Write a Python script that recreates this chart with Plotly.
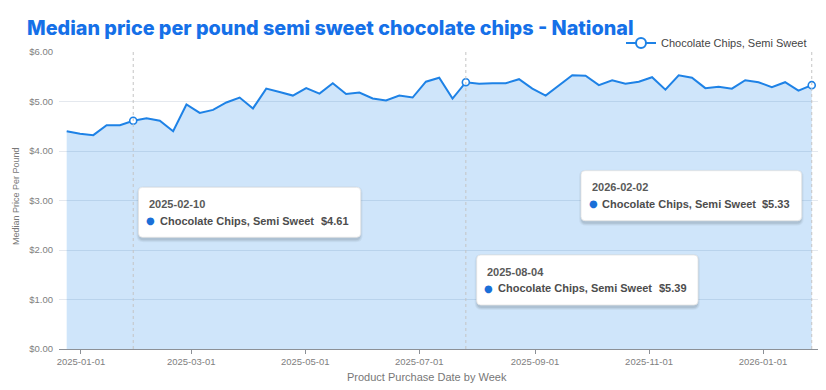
import plotly.graph_objects as go
import pandas as pd

# ---------------- data ----------------
series_name = "Chocolate Chips, Semi Sweet"
start_week = "2025-01-06"
n_weeks = 57
week_dates = pd.date_range(start_week, periods=n_weeks, freq="7D")
prices = [
    4.40, 4.35, 4.32, 4.52, 4.52, 4.61, 4.66, 4.61, 4.40, 4.94,
    4.77, 4.83, 4.98, 5.08, 4.86, 5.26, 5.19, 5.12, 5.27, 5.16,
    5.37, 5.15, 5.18, 5.06, 5.02, 5.12, 5.08, 5.40, 5.48, 5.06,
    5.39, 5.36, 5.37, 5.37, 5.45, 5.26, 5.12, 5.33, 5.53, 5.52,
    5.33, 5.43, 5.36, 5.40, 5.49, 5.24, 5.53, 5.48, 5.27, 5.30,
    5.26, 5.43, 5.39, 5.29, 5.39, 5.22, 5.33,
]
highlight_dates = ["2025-02-10", "2025-08-04", "2026-02-02"]
tick_labels = ["2025-01-01", "2025-03-01", "2025-05-01", "2025-07-01",
               "2025-09-01", "2025-11-01", "2026-01-01"]
y_ticks = [0, 1, 2, 3, 4, 5, 6]

title_text = "Median price per pound semi sweet chocolate chips - National"
x_title = "Product Purchase Date by Week"
y_title = "Median Price Per Pound"

# ---------------- styling ----------------
OFF = 8                      # page body margin
W, H = 826 - OFF, 390 - OFF  # figure size
# plot area in reference (window) pixels
L0, R0, T0, B0 = 59, 818, 52, 349
L, R, T, B = L0 - OFF, R0 - OFF, T0 - OFF, B0 - OFF
LINE = "#1E82E6"
FILL = "rgba(30,130,230,0.21)"
GRID = "#e4e8ee"
TICKC = "#808080"
SANS = "Liberation Sans, Arial, sans-serif"


def px(xw):
    return (xw - OFF - L) / (R - L)


def py(yw):
    return (B - (yw - OFF)) / (B - T)


date_to_price = {d.strftime("%Y-%m-%d"): p for d, p in zip(week_dates, prices)}
hl_prices = [date_to_price[d] for d in highlight_dates]

fig = go.Figure()

fig.add_trace(go.Scatter(
    x=week_dates, y=prices, mode="lines",
    line=dict(color=LINE, width=2), fill="tozeroy", fillcolor=FILL,
    showlegend=False, hoverinfo="skip",
))
fig.add_trace(go.Scatter(
    x=pd.to_datetime(highlight_dates), y=hl_prices, mode="markers",
    marker=dict(symbol="circle", size=7, color="white",
                line=dict(color=LINE, width=1.6)),
    showlegend=False, hoverinfo="skip",
))
# legend entry
fig.add_trace(go.Scatter(
    x=[None], y=[None], mode="lines+markers", name=series_name,
    line=dict(color=LINE, width=2),
    marker=dict(symbol="circle", size=10, color="white",
                line=dict(color=LINE, width=2)),
))
# empty trace so the tick-label date axis is drawn
fig.add_trace(go.Scatter(
    x=pd.to_datetime(tick_labels), y=[None] * len(tick_labels), xaxis="x2",
    mode="lines", showlegend=False, hoverinfo="skip",
))

shapes = []
annotations = []

# dashed guide lines
for d in highlight_dates:
    shapes.append(dict(type="line", xref="x", yref="paper", x0=d, x1=d, y0=0, y1=1,
                       line=dict(color="#c4c4c4", width=1, dash="3px,3px"), layer="above"))


def rounded_rect(x0w, y0w, x1w, y1w, r=4):
    rx = r / (R - L)
    ry = r / (B - T)
    X0, X1 = px(x0w), px(x1w)
    Yt, Yb = py(y0w), py(y1w)
    return (f"M {X0+rx},{Yt} L {X1-rx},{Yt} Q {X1},{Yt} {X1},{Yt-ry} "
            f"L {X1},{Yb+ry} Q {X1},{Yb} {X1-rx},{Yb} L {X0+rx},{Yb} "
            f"Q {X0},{Yb} {X0},{Yb+ry} L {X0},{Yt-ry} Q {X0},{Yt} {X0+rx},{Yt} Z")


boxes = [  # left, top, right, bottom (window pixels)
    (138.5, 187.3, 360.7, 237.3),
    (476.7, 255.0, 698.0, 305.0),
    (581.0, 170.7, 801.7, 220.7),
]
for (l, t, r, b), d, p in zip(boxes, highlight_dates, hl_prices):
    for off, a in [(3, 0.04), (2, 0.05), (1, 0.07)]:
        shapes.append(dict(type="path", xref="paper", yref="paper",
                           path=rounded_rect(l - off + 1, t - off + 2, r + off - 1, b + off + 2, 4 + off),
                           fillcolor=f"rgba(0,0,0,{a})", line=dict(width=0), layer="above"))
    shapes.append(dict(type="path", xref="paper", yref="paper",
                       path=rounded_rect(l, t, r, b, 4),
                       fillcolor="white", line=dict(color="#e3e3e3", width=0.8), layer="above"))
    annotations.append(dict(xref="paper", yref="paper", x=px(l + 8.5), y=py(t + 16.5),
                            xanchor="left", yanchor="middle", showarrow=False,
                            text=d, font=dict(family=SANS, size=11, color="#595959", weight="bold")))
    annotations.append(dict(xref="paper", yref="paper", x=px(l + 12), y=py(t + 33.2),
                            xanchor="center", yanchor="middle", showarrow=False,
                            text="●", font=dict(family="DejaVu Sans", size=10, color="#1a6fd8")))
    annotations.append(dict(xref="paper", yref="paper", x=px(l + 19.3), y=py(t + 33.2),
                            xanchor="left", yanchor="middle", showarrow=False,
                            text=series_name,
                            font=dict(family=SANS, size=11, color="#4d4d4d", weight="bold")))
    annotations.append(dict(xref="paper", yref="paper", x=px(r - 9.5), y=py(t + 33.2),
                            xanchor="right", yanchor="middle", showarrow=False,
                            text=f"${p:.2f}",
                            font=dict(family=SANS, size=11, color="#4d4d4d", weight="bold")))

# axis titles
annotations.append(dict(xref="paper", yref="paper", x=px(427), y=py(377),
                        xanchor="center", yanchor="middle", showarrow=False, text=x_title,
                        font=dict(family=SANS, size=11, color="#777777")))
annotations.append(dict(xref="paper", yref="paper", x=px(16), y=py(196),
                        xanchor="center", yanchor="middle", showarrow=False, text=y_title,
                        textangle=-90,
                        font=dict(family=SANS, size=9, color="#777777")))

fig.update_layout(
    width=W, height=H,
    margin=dict(l=L, r=W - R, t=T, b=H - B, pad=0, autoexpand=False),
    paper_bgcolor="white", plot_bgcolor="white",
    title=dict(text=title_text, x=(27 - OFF) / W, xref="container", xanchor="left",
               y=1 - (28 - OFF) / H, yref="container", yanchor="middle",
               font=dict(family="Inter, Open Sans, sans-serif", size=19.8, color="#1570E8", weight=800)),
    legend=dict(x=px(812), xanchor="right", y=py(43), yanchor="middle",
                font=dict(family=SANS, size=11, color="#444444"),
                bgcolor="rgba(0,0,0,0)", itemwidth=30),
    shapes=shapes, annotations=annotations,
    xaxis=dict(type="date",
               range=["2025-01-01 22:48", "2026-02-05 07:00"],
               showgrid=False, showticklabels=False, ticks="", showline=False,
               zeroline=False, fixedrange=True),
    xaxis2=dict(type="date", overlaying="x", anchor="y", side="bottom",
                range=["2024-12-20 05:30", "2026-01-30 10:00"],
                tickmode="array", tickvals=tick_labels, ticktext=tick_labels,
                showgrid=False, showline=True, linecolor="#8c9096", linewidth=1,
                ticks="outside", ticklen=4, tickcolor="#8c9096",
                tickfont=dict(family=SANS, size=9.5, color=TICKC),
                zeroline=False),
    yaxis=dict(range=[0, 6], tickmode="array", tickvals=y_ticks,
               ticktext=[f"${v:.2f}" for v in y_ticks],
               showgrid=True, gridcolor=GRID, gridwidth=1, zeroline=False,
               showline=False, ticks="", ticklabelstandoff=5,
               tickfont=dict(family=SANS, size=9.5, color=TICKC)),
)

fig.write_html("out.html")
